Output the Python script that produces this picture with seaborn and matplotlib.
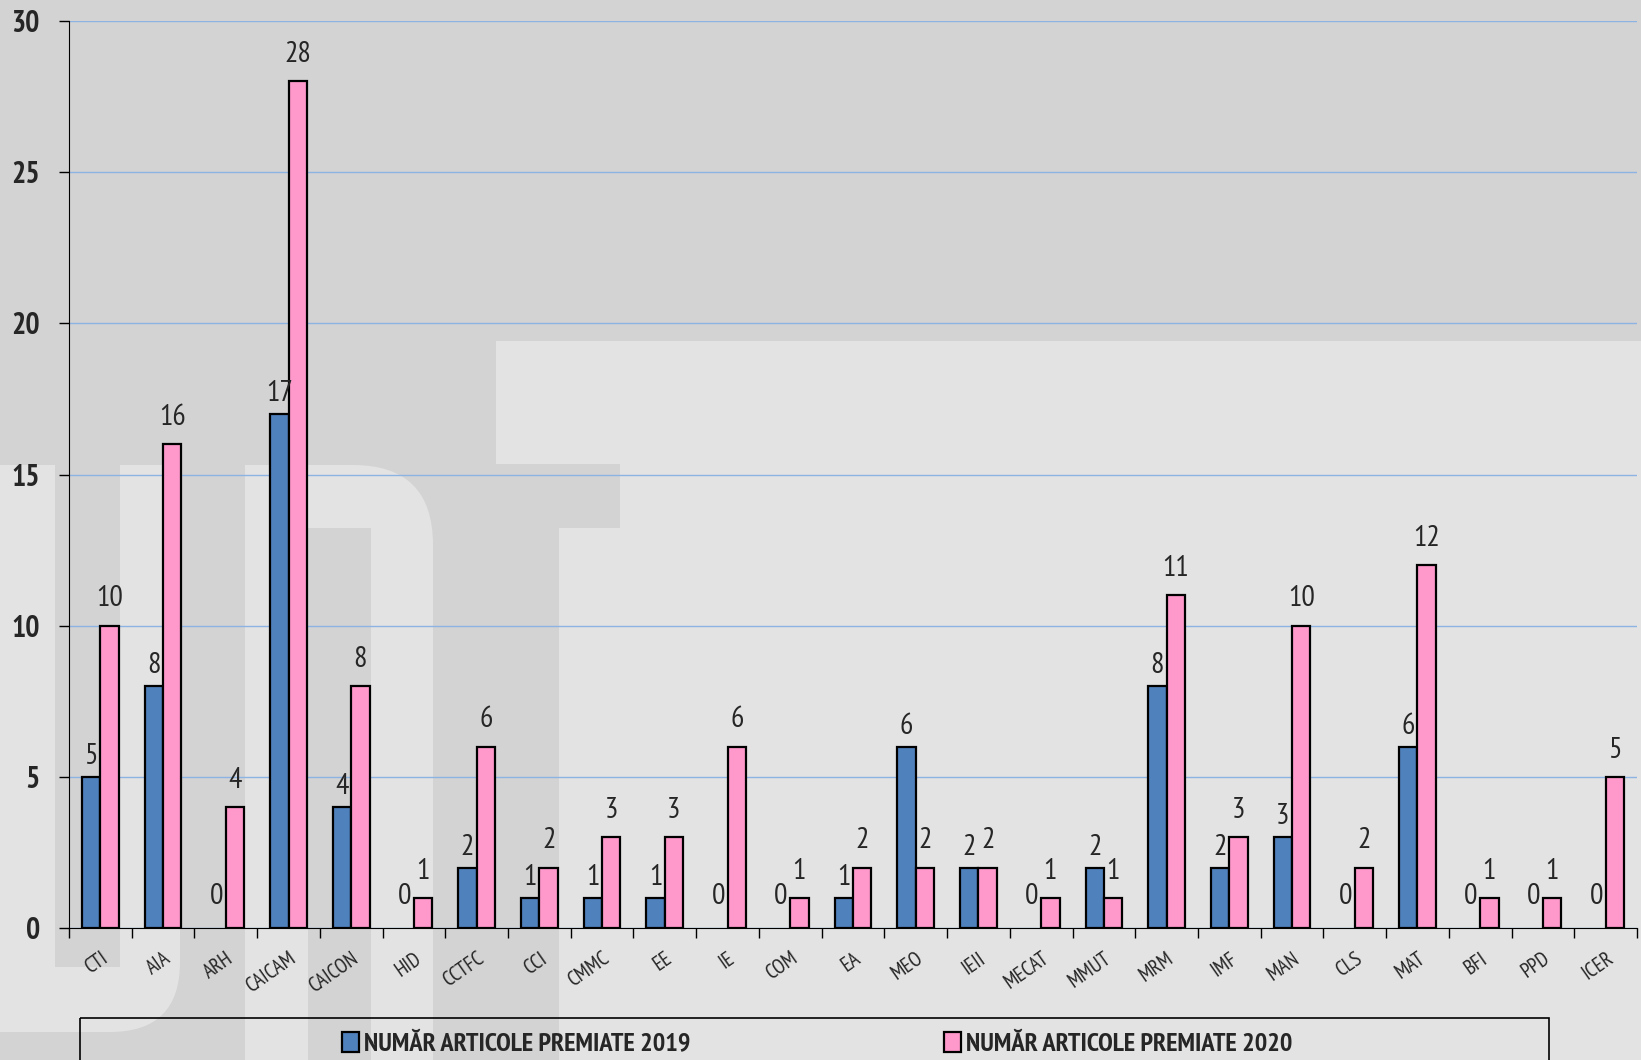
import pandas as pd
import matplotlib
matplotlib.use("Agg")
import matplotlib.pyplot as plt
import seaborn as sns
from matplotlib.patches import Rectangle, FancyBboxPatch, Patch

# date
facultati = ["CTI", "AIA", "ARH", "CAICAM", "CAICON", "HID", "CCTFC", "CCI", "CMMC", "EE",
             "IE", "COM", "EA", "MEO", "IEII", "MECAT", "MMUT", "MRM", "IMF", "MAN",
             "CLS", "MAT", "BFI", "PPD", "ICER"]
premiate_2019 = [5, 8, 0, 17, 4, 0, 2, 1, 1, 1, 0, 0, 1, 6, 2, 0, 2, 8, 2, 3, 0, 6, 0, 0, 0]
premiate_2020 = [10, 16, 4, 28, 8, 1, 6, 2, 3, 3, 6, 1, 2, 2, 2, 1, 1, 11, 3, 10, 2, 12, 1, 1, 5]
serii = ["NUMĂR ARTICOLE PREMIATE 2019", "NUMĂR ARTICOLE PREMIATE 2020"]
y_ticks = [0, 5, 10, 15, 20, 25, 30]

df = pd.DataFrame({
    "Facultate": facultati * 2,
    "Articole": premiate_2019 + premiate_2020,
    "Serie": [serii[0]] * len(facultati) + [serii[1]] * len(facultati),
})

blue = "#4F81BD"
pink = "#FF99CC"
fonts = ["PT Sans Narrow", "Roboto Condensed", "DejaVu Sans"]

sns.set_style("white")
plt.rcParams["font.family"] = fonts

W, H = 1641, 1060
fig = plt.figure(figsize=(W / 100, H / 100), dpi=100)
fig.patch.set_facecolor("#D3D3D3")

# watermark in background (pixel coords)
bg = fig.add_axes([0, 0, 1, 1])
bg.set_xlim(0, W)
bg.set_ylim(H, 0)
bg.axis("off")
light = "#E3E3E3"
dark = "#D3D3D3"
# U
bg.add_patch(FancyBboxPatch((-80, 465), 260, 567, boxstyle="round,pad=0,rounding_size=70", fc=light, ec="none"))
bg.add_patch(Rectangle((100, 465), 80, 120, fc=light, ec="none"))
bg.add_patch(Rectangle((55, 465), 65, 502, fc=dark, ec="none"))
# P
bg.add_patch(FancyBboxPatch((245, 465), 188, 700, boxstyle="round,pad=0,rounding_size=80", fc=light, ec="none"))
bg.add_patch(Rectangle((245, 465), 100, 200, fc=light, ec="none"))
bg.add_patch(Rectangle((308, 528), 63, 600, fc=dark, ec="none"))
# T
bg.add_patch(Rectangle((496, 341), 1200, 123, fc=light, ec="none"))
bg.add_patch(Rectangle((620, 464), 1100, 700, fc=light, ec="none"))
bg.add_patch(Rectangle((559, 528), 61, 600, fc=light, ec="none"))
# legend frame
bg.add_patch(Rectangle((80, 1018), 1469, 80, fill=False, ec="black", lw=1.2))

ax = fig.add_axes([69 / W, 1 - 928 / H, (1637 - 69) / W, (928 - 21) / H])
ax.patch.set_alpha(0)

sns.barplot(data=df, x="Facultate", y="Articole", hue="Serie", palette=[blue, pink],
            saturation=1, width=0.585, edgecolor="black", linewidth=1.6,
            legend=False, ax=ax)

# value labels (2019 labels sit lower, zeros higher, like the original)
for k, c in enumerate(ax.containers):
    for bar in c:
        h = bar.get_height()
        if h == 0:
            bar.set_linewidth(0)
        if k == 0:
            pad = 13 if h == 0 else 5
        else:
            pad = 9.5
        ax.annotate(f"{h:.0f}", xy=(bar.get_x() + bar.get_width() / 2, h),
                    xytext=(0, pad), textcoords="offset points",
                    ha="center", va="bottom", fontsize=21.5, family=fonts)

ax.set_ylim(0, 30)
ax.set_xlim(-0.5, len(facultati) - 0.5)
ax.set_yticks(y_ticks)
ax.set_yticklabels([str(t) for t in y_ticks], fontsize=21.5, fontweight="bold")
ax.set_xticks(range(len(facultati)))
ax.set_xticklabels(facultati, fontsize=15, rotation=35, ha="right", rotation_mode="anchor")
ax.set_xticks([i - 0.5 for i in range(len(facultati) + 1)], minor=True)
ax.tick_params(axis="x", which="major", length=0, pad=15)
ax.tick_params(axis="x", which="minor", length=7, width=1, color="black", direction="out", bottom=True)
ax.tick_params(axis="y", length=7, width=1, color="black", direction="out", left=True, pad=14)
ax.set_xlabel("")
ax.set_ylabel("")

ax.yaxis.grid(True, color="#8DB3E2", linewidth=1)
ax.set_axisbelow(True)
for s in ["top", "right"]:
    ax.spines[s].set_visible(False)
ax.spines["left"].set_color("black")
ax.spines["bottom"].set_color("black")

handles = [Patch(facecolor=blue, edgecolor="black", linewidth=1.6, label=serii[0]),
           Patch(facecolor=pink, edgecolor="black", linewidth=1.6, label=serii[1])]
fig.legend(handles=handles, loc="center left", bbox_to_anchor=(318 / W, 1 - 1044 / H),
           ncol=2, frameon=False, handlelength=0.65, handleheight=0.8, handletextpad=0.2,
           columnspacing=9.6, prop=dict(family=fonts, weight="bold", size=19))

fig.savefig("out.png", dpi=100, facecolor=fig.get_facecolor())
